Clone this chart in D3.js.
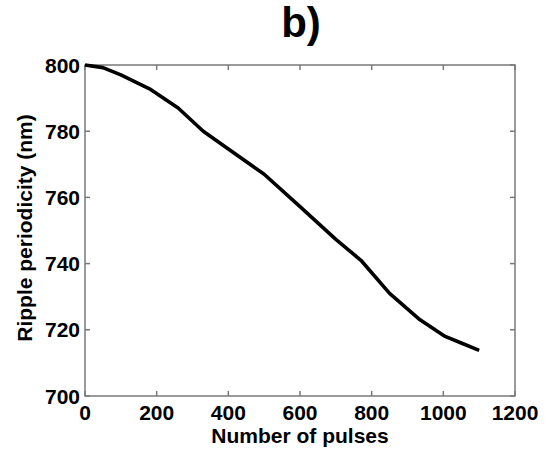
<!DOCTYPE html>
<html>
<head>
<meta charset="utf-8">
<script src="https://cdn.jsdelivr.net/npm/d3@7"></script>
<style>
  body { margin: 0; background: #fff; }
  text { font-family: "Liberation Sans", Arial, sans-serif; font-weight: bold; fill: #000; }
</style>
</head>
<body>
<div class="canva"></div>
<script>
// pulses vs ripple periodicity
var pulses = [0, 50, 100, 180, 260, 330, 400, 500, 600, 700, 770, 850, 935, 1005, 1050, 1100];
var period = [800, 799.2, 797, 792.8, 787, 780, 774.6, 767, 757.2, 747.3, 741, 731, 723, 718, 716, 713.8];

var xTicks = [0, 200, 400, 600, 800, 1000, 1200];
var yTicks = [700, 720, 740, 760, 780, 800];

var titleText = "b)";
var xLabel = "Number of pulses";
var yLabel = "Ripple periodicity (nm)";

const svg = d3.select(".canva").append("svg")
    .attr("width", 557)
    .attr("height", 457);

// plot box (window.top is reserved, so own names)
var pLeft = 85, pRight = 515, pTop = 65, pBottom = 396;

var x = d3.scaleLinear().domain([0, 1200]).range([pLeft, pRight]);
var y = d3.scaleLinear().domain([700, 800]).range([pBottom, pTop]);

var axisColor = "#7a7a7a";

svg.append("rect")
    .attr("x", pLeft).attr("y", pTop)
    .attr("width", pRight - pLeft).attr("height", pBottom - pTop)
    .attr("fill", "none")
    .attr("stroke", axisColor)
    .attr("stroke-width", 1.5);

// inward ticks, all four sides
xTicks.forEach(function (t) {
    svg.append("line").attr("x1", x(t)).attr("x2", x(t)).attr("y1", pBottom).attr("y2", pBottom - 5)
        .attr("stroke", axisColor).attr("stroke-width", 1.5);
    svg.append("line").attr("x1", x(t)).attr("x2", x(t)).attr("y1", pTop).attr("y2", pTop + 5)
        .attr("stroke", axisColor).attr("stroke-width", 1.5);
    svg.append("text")
        .attr("x", x(t)).attr("y", 420)
        .attr("text-anchor", "middle")
        .style("font-size", "21px")
        .text(t);
});

yTicks.forEach(function (t) {
    svg.append("line").attr("x1", pLeft).attr("x2", pLeft + 5).attr("y1", y(t)).attr("y2", y(t))
        .attr("stroke", axisColor).attr("stroke-width", 1.5);
    svg.append("line").attr("x1", pRight).attr("x2", pRight - 5).attr("y1", y(t)).attr("y2", y(t))
        .attr("stroke", axisColor).attr("stroke-width", 1.5);
    svg.append("text")
        .attr("x", 80).attr("y", y(t) + 7.5)
        .attr("text-anchor", "end")
        .style("font-size", "21px")
        .text(t);
});

// curve
var line = d3.line()
    .x(function (d, i) { return x(pulses[i]); })
    .y(function (d) { return y(d); });

svg.append("path")
    .datum(period)
    .attr("d", line)
    .attr("fill", "none")
    .attr("stroke", "#000")
    .attr("stroke-width", 3.6)
    .attr("stroke-linejoin", "round");

// labels
svg.append("text")
    .attr("x", 301).attr("y", 37)
    .attr("text-anchor", "middle")
    .style("font-size", "42px")
    .text(titleText);

svg.append("text")
    .attr("x", 300).attr("y", 443)
    .attr("text-anchor", "middle")
    .style("font-size", "21px")
    .text(xLabel);

svg.append("text")
    .attr("transform", "translate(32,228) rotate(-90)")
    .attr("text-anchor", "middle")
    .style("font-size", "21px")
    .text(yLabel);
</script>
</body>
</html>
